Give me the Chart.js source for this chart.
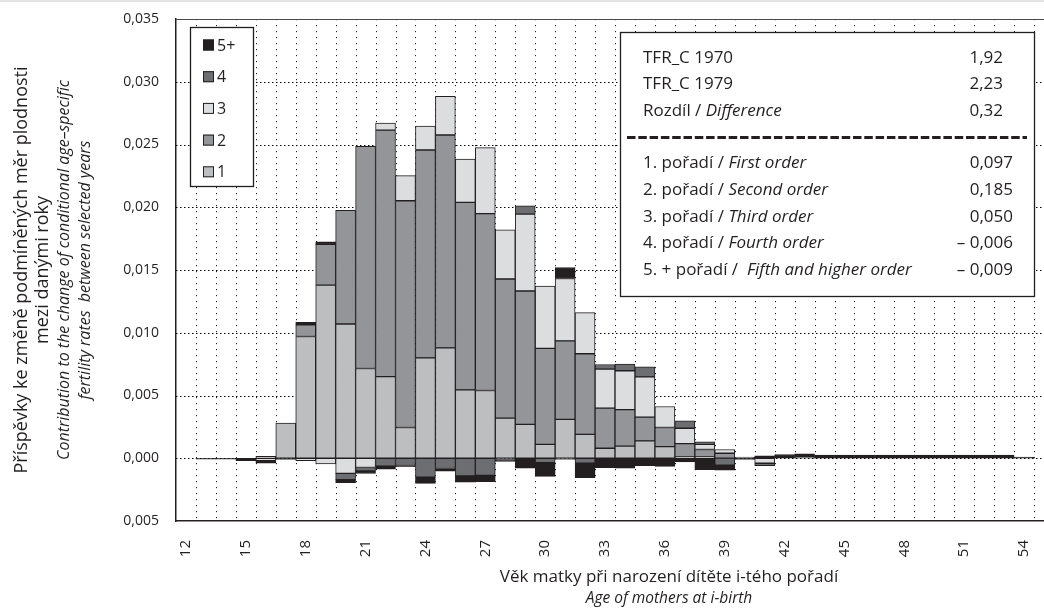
<!DOCTYPE html>
<html>
<head>
<meta charset="utf-8">
<script src="https://cdn.jsdelivr.net/npm/chart.js@4.4.1/dist/chart.umd.min.js"></script>
<style>
  html, body { margin: 0; padding: 0; background: #fff; overflow: hidden; }
  #wrap { position: relative; width: 1060px; height: 609px; }
</style>
</head>
<body>
<div id="wrap"><canvas id="c" width="1060" height="609"></canvas></div>
<script>
// Age of mother (category axis); the last age carries no bar and no label
const ages = [12,13,14,15,16,17,18,19,20,21,22,23,24,25,26,27,28,29,30,31,32,33,
              34,35,36,37,38,39,40,41,42,43,44,45,46,47,48,49,50,51,52,53,54,55];

// Contributions by birth order, one value per age
const order1 = [0,0,0,0,0.00015,0.0028,0.0097,0.0138,0.0107,0.00715,0.0065,0.00245,
  0.0080,0.0088,0.00545,0.0054,0.0032,0.0027,0.0011,0.0031,0.0019,0.0008,
  0.00097,0.00138,0.00093,0.0001,0.0001,0.00005,0,0,0,0,0,0,0,0,0,0,0,0,0,0,0,0];
const order2 = [0,0,0,0,0,0,0.00093,0.00324,0.00906,0.0177,0.01965,0.01807,
  0.01656,0.01696,0.01494,0.01409,0.01108,0.01063,0.00765,0.00625,0.00643,0.0032,
  0.0029,0.0019,0.00152,0.00106,0.0006,0.00035,0,0,0,0,0,0,0,0,0,0,0,0,0,0,0,0];
const order3 = [0,0,0,0,-0.0002,0,-0.0002,-0.00045,-0.0012,-0.00074,0.00055,0.002,
  0.0019,0.00308,0.00345,0.00526,0.00393,0.00612,0.00497,0.00497,0.00327,0.0031,
  0.0031,0.0032,0.00167,0.00123,0.0004,0.0003,0,-0.0004,0,0,0,0,0,0,0,0,0,0,0,0,0,0];
const order4 = [0,0,0,0,0,0,0,0,-0.0005,-0.00027,-0.00063,-0.00058,
  -0.0015,-0.00082,-0.0014,-0.00136,-0.0001,0.00066,-0.00035,-0.0001,-0.0004,0.00037,
  0.00053,0.0008,0,0.0006,0.0002,-0.00055,0.0001,-0.0002,0,0.0001,0,0,0,0,0,0,0,0,0,0,0,0];
const order5 = [0,-0.00008,-0.00008,-0.0002,-0.0002,-0.0001,0.0002,0.0002,-0.00025,-0.0002,-0.00024,-0.0001,
  -0.0005,-0.0002,-0.0005,-0.0005,-0.00015,-0.0008,-0.0011,0.00088,-0.00114,-0.00075,
  -0.0008,-0.0006,-0.00065,-0.0003,-0.0009,-0.0004,-0.0001,0.0002,0.0003,0.00025,
  0.00025,0.00025,0.00025,0.00025,0.00025,0.00025,0.00025,0.00025,0.00025,0.00025,0.0001,0];

const seriesNames = ['1', '2', '3', '4', '5+'];
const seriesColors = ['#bcbec0', '#939598', '#dcdddf', '#6d6e71', '#231f20'];

// Y axis range and step
const yMin = -0.005, yMax = 0.035, yStep = 0.005;

// Summary table
const tfr1970 = 1.92, tfr1979 = 2.23, tfrDifference = 0.32;
const orderNames = ['1. pořadí / ', '2. pořadí / ', '3. pořadí / ', '4. pořadí / ', '5. + pořadí /  '];
const orderNamesEn = ['First order', 'Second order', 'Third order', 'Fourth order', 'Fifth and higher order'];
const orderTotals = [0.097, 0.185, 0.050, -0.006, -0.009];

const FONT = '"Open Sans", "Noto Sans", sans-serif';
const INK = '#231f20';

function fmtComma(v, digits) {
  const s = Math.abs(v).toFixed(digits).replace('.', ',');
  return v < 0 ? '\u2013 ' + s : s;
}

// dotted grid behind the bars, taken from the scales
const dottedGrid = {
  id: 'dottedGrid',
  beforeDatasetsDraw(chart) {
    const { ctx, chartArea: a, scales } = chart;
    const xs = scales.x, ys = scales.y;
    ctx.save();
    ctx.strokeStyle = '#000000';
    ctx.lineWidth = 1;
    ctx.setLineDash([1.5, 2.5]);
    for (let v = yMin + yStep; v < yMax - yStep / 2; v += yStep) {
      const py = Math.round(ys.getPixelForValue(v)) + 0.5;
      ctx.beginPath();
      ctx.moveTo(a.left, py);
      ctx.lineTo(a.right, py);
      ctx.stroke();
    }
    const half = (xs.getPixelForTick(1) - xs.getPixelForTick(0)) / 2;
    ctx.strokeStyle = '#222222';
    ctx.setLineDash([1.2, 4.8]);
    for (let i = 0; i < xs.ticks.length; i++) {
      const px = Math.round(xs.getPixelForTick(i) + half) + 0.5;
      ctx.beginPath();
      ctx.moveTo(px, a.top);
      ctx.lineTo(px, a.bottom);
      ctx.stroke();
    }
    ctx.restore();
  }
};

const overlay = {
  id: 'overlay',
  afterDraw(chart) {
    const { ctx, chartArea: a } = chart;
    ctx.save();

    // thin rule at the very top of the figure
    ctx.fillStyle = '#e4e4e4';
    ctx.fillRect(0, 0, chart.width, 2);

    // upper frame line of the plot
    ctx.strokeStyle = '#4a4a4a';
    ctx.lineWidth = 1;
    ctx.beginPath();
    ctx.moveTo(a.left, a.top + 0.5);
    ctx.lineTo(a.right, a.top + 0.5);
    ctx.stroke();

    // legend box (series listed top-down in reverse order)
    const lx = 190.5, ly = 27.5, lw = 63, lh = 159;
    ctx.fillStyle = '#fff';
    ctx.fillRect(lx, ly, lw, lh);
    ctx.strokeStyle = INK;
    ctx.lineWidth = 1.3;
    ctx.strokeRect(lx, ly, lw, lh);
    const ds = chart.data.datasets.slice().reverse();
    ctx.font = '16px ' + FONT;
    ctx.textBaseline = 'middle';
    ctx.textAlign = 'left';
    ds.forEach((d, i) => {
      const cy = 45 + i * 31.7;
      ctx.fillStyle = d.backgroundColor;
      ctx.fillRect(203, cy - 5.5, 11, 11);
      ctx.strokeStyle = INK;
      ctx.lineWidth = 1;
      ctx.strokeRect(203.5, cy - 5, 10, 10);
      ctx.fillStyle = INK;
      ctx.fillText(d.label, 217, cy + 1);
    });

    // summary table box
    const bx = 620.5, by = 32.5, bw = 414, bh = 264;
    ctx.fillStyle = '#fff';
    ctx.fillRect(bx, by, bw, bh);
    ctx.strokeStyle = INK;
    ctx.lineWidth = 1.3;
    ctx.strokeRect(bx, by, bw, bh);

    const TS = '17px ';
    function mixed(x, y, plain, ital) {
      ctx.textAlign = 'left';
      ctx.font = TS + FONT;
      ctx.fillText(plain, x, y);
      if (ital) {
        const w = ctx.measureText(plain).width;
        ctx.font = 'italic ' + TS + FONT;
        ctx.fillText(ital, x + w, y);
      }
    }
    ctx.fillStyle = INK;
    ctx.textBaseline = 'middle';
    const topRows = [['TFR_C 1970', '', tfr1970], ['TFR_C 1979', '', tfr1979], ['Rozdíl / ', 'Difference', tfrDifference]];
    topRows.forEach((r, i) => {
      const y = 58 + i * 26.5;
      mixed(643, y, r[0], r[1]);
      ctx.font = TS + FONT;
      ctx.textAlign = 'right';
      ctx.fillText(fmtComma(r[2], 2), 1003, y);
    });

    ctx.strokeStyle = INK;
    ctx.lineWidth = 3;
    ctx.setLineDash([8.5, 2.8]);
    ctx.beginPath();
    ctx.moveTo(627, 137.5);
    ctx.lineTo(1027, 137.5);
    ctx.stroke();
    ctx.setLineDash([]);

    orderNames.forEach((n, i) => {
      const y = 163.5 + i * 26.6;
      mixed(643, y, n, orderNamesEn[i]);
      ctx.font = TS + FONT;
      ctx.textAlign = 'right';
      ctx.fillText(fmtComma(orderTotals[i], 3), 1013, y);
    });

    // y axis title (rotated)
    ctx.save();
    ctx.translate(0, 270);
    ctx.rotate(-Math.PI / 2);
    ctx.textAlign = 'center';
    ctx.textBaseline = 'middle';
    ctx.fillStyle = INK;
    const yTitle = [
      ['Příspěvky ke změně podmíněných měr plodnosti', '18px ', 22],
      ['mezi danými roky', '18px ', 43],
      ['Contribution to the change of conditional age\u2013specific', 'italic 16px ', 64],
      ['fertility rates  between selected years', 'italic 16px ', 85]
    ];
    yTitle.forEach(([t, f, x]) => {
      ctx.font = f + FONT;
      ctx.fillText(t, 0, x);
    });
    ctx.restore();

    // x axis title
    ctx.textAlign = 'center';
    ctx.textBaseline = 'middle';
    ctx.font = '17px ' + FONT;
    ctx.fillText('Věk matky při narození dítěte i-tého pořadí', 669, 577);
    ctx.font = 'italic 15.5px ' + FONT;
    ctx.fillText('Age of mothers at i-birth', 669, 599);

    ctx.restore();
  }
};

const seriesData = [order1, order2, order3, order4, order5];

new Chart(document.getElementById('c'), {
  type: 'bar',
  data: {
    labels: ages.map(String),
    datasets: seriesData.map((d, i) => ({
      label: seriesNames[i],
      data: d,
      backgroundColor: seriesColors[i],
      borderColor: INK,
      borderWidth: 1,
      borderSkipped: false,
      categoryPercentage: 1,
      barPercentage: 1
    }))
  },
  options: {
    responsive: false,
    animation: false,
    devicePixelRatio: 1,
    layout: { padding: { left: 0, top: 19, right: 6, bottom: 0 } },
    plugins: { legend: { display: false }, tooltip: { enabled: false } },
    scales: {
      x: {
        stacked: true,
        offset: true,
        grid: { display: false },
        border: { display: true, color: INK, width: 1.5 },
        ticks: {
          autoSkip: false,
          maxRotation: 90,
          minRotation: 90,
          padding: 11,
          color: INK,
          font: { family: FONT, size: 15 },
          callback: function (v, i) {
            const age = ages[i];
            return (age <= 54 && (age - 12) % 3 === 0) ? String(age) : '';
          }
        },
        afterFit: (s) => { s.height = 88; s.paddingLeft = 0; s.paddingRight = 0; }
      },
      y: {
        stacked: true,
        min: yMin,
        max: yMax,
        grid: { display: false },
        border: { display: true, color: INK, width: 1.5 },
        ticks: {
          stepSize: yStep,
          padding: 9,
          color: INK,
          font: { family: FONT, size: 14 },
          callback: (v) => Math.abs(v).toFixed(3).replace('.', ',')
        },
        afterFit: (s) => { s.width = 176; s.paddingTop = 0; s.paddingBottom = 0; }
      }
    }
  },
  plugins: [dottedGrid, overlay]
});
</script>
</body>
</html>
